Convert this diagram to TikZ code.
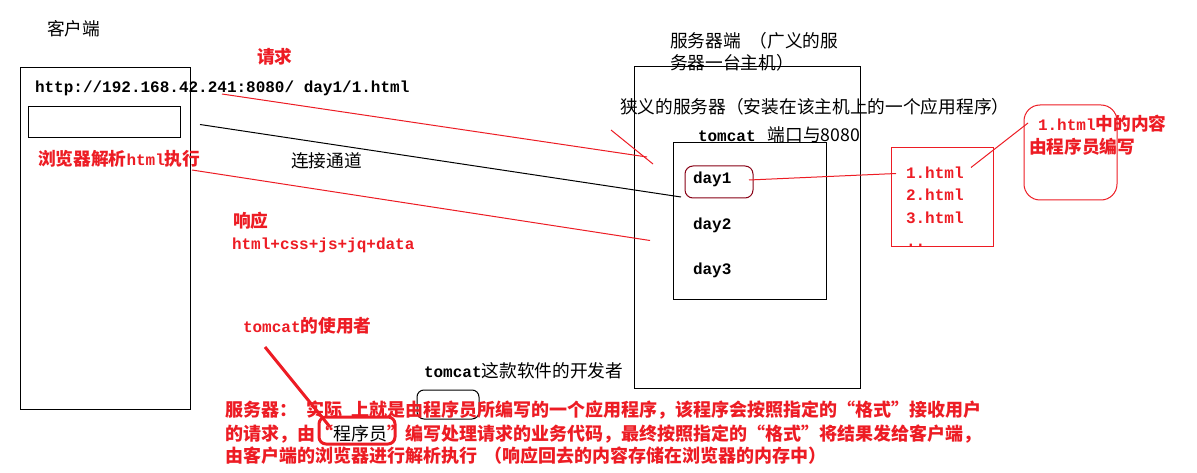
\documentclass[tikz,border=0pt]{standalone}
\usepackage{fontspec}
\newfontfamily\cjkf{Noto Sans CJK SC}
\newfontfamily\monof{Liberation Mono}
\definecolor{rd}{RGB}{237,28,36}
\definecolor{drd}{RGB}{136,0,21}
\newcommand\zh{\cjkf\mdseries\fontsize{17.7}{22}\selectfont}
\newcommand\zhb{\cjkf\bfseries\fontsize{17.7}{22}\selectfont}
\newcommand\zhl{\cjkf\bfseries\fontsize{18}{22}\selectfont}
\newcommand\zhlk{\cjkf\mdseries\fontsize{18}{22}\selectfont}
\newcommand\en{\monof\bfseries\fontsize{16}{20}\selectfont}
\begin{document}
\begin{tikzpicture}[x=1pt,y=-1pt,
  box/.style={draw, line width=1pt, inner sep=0pt, outer sep=0pt, anchor=north west},
  txt/.style={anchor=base west, inner sep=0pt, outer sep=0pt},
  ln/.style={line width=1pt},
  thick red/.style={draw=rd, line width=3pt}
]
\useasboundingbox (0,0) rectangle (1197,473);
\fill[white] (0,0) rectangle (1197,473);

% boxes
\node[box, minimum width=170pt, minimum height=341pt] (client) at (20,68) {};
\node[box, minimum width=152pt, minimum height=31.5pt] (input) at (28.5,106.5) {};
\node[box, minimum width=226pt, minimum height=321pt] (server) at (634,67) {};
\node[box, minimum width=153pt, minimum height=156pt] (tomcat) at (673,143) {};
\node[box, draw=drd, rounded corners=8pt, minimum width=68pt, minimum height=32pt] (d1box) at (685,166) {};
\node[box, draw=rd, minimum width=102pt, minimum height=99pt] (list) at (891,148) {};
\node[box, draw=rd, rounded corners=16pt, minimum width=93pt, minimum height=95pt] (note) at (1024,105) {};
\node[box, rounded corners=7pt, minimum width=62pt, minimum height=29pt] (devbox) at (417,390) {};
\node[box, thick red, rounded corners=7pt, minimum width=76pt, minimum height=27pt] (progbox) at (319,417) {};

% connector ends
\coordinate (rq1) at (222,94);   \coordinate (rq2) at (647,157);
\coordinate (tk1) at (611,130);  \coordinate (tk2) at (653,164);
\coordinate (ch1) at (200,124.5);\coordinate (ch2) at (681,197);
\coordinate (rs1) at (192,170);  \coordinate (rs2) at (650,240.5);
\coordinate (dl1) at (749,180);  \coordinate (dl2) at (896,173.5);
\coordinate (nt1) at (971,167.5);\coordinate (nt2) at (1028,123);
\coordinate (us1) at (265,347);  \coordinate (us2) at (330,427);

\draw[ln, rd] (rq1) -- (rq2);
\draw[ln, rd] (tk1) -- (tk2);
\draw[ln] (ch1) -- (ch2);
\draw[ln, rd] (rs1) -- (rs2);
\draw[ln, rd] (dl1) -- (dl2);
\draw[ln, rd] (nt1) -- (nt2);
\draw[thick red] (us1) -- (us2);

% texts
\node[txt] (kehu) at (47,35.5) {\zh 客户端};
\node[txt, text=rd] (qq) at (257,63.5) {\zhb 请求};
\node[txt] (url) at (35,92.7) {\en http://192.168.42.241:8080/ day1/1.html};
\node[txt, text=rd] (br) at (38,166) {\zhb 浏览器解析\en html\zhb 执行};
\node[txt] (chan) at (291,167.5) {\zh 连接通道};
\node[txt, text=rd] (resp) at (233,227.5) {\zhb 响应};
\node[txt, text=rd] (data) at (232,249.3) {\en html+css+js+jq+data};

\node[txt] (srv1) at (670,47.5) {\zh 服务器端\hspace{9pt}（广义的服};
\node[txt] (srv2) at (670,70) {\zh 务器一台主机）};
\node[txt] (narrow) at (620,113.5) {\zh 狭义的服务器（安装在该主机上的一个应用程序）};
\node[txt] (port) at (698,141.5) {\en tomcat\zh\hspace{12pt}端口与8080};
\node[txt] (day1) at (693,183.3) {\en day1};
\node[txt] (day2) at (693,229.3) {\en day2};
\node[txt] (day3) at (693,275) {\en day3};

\node[txt, text=rd] (h1) at (906,178.3) {\en 1.html};
\node[txt, text=rd] (h2) at (906,201) {\en 2.html};
\node[txt, text=rd] (h3) at (906,224) {\en 3.html};
\node[txt, text=rd] (hd) at (906,247) {\en ..};
\node[txt, text=rd] (n1) at (1038,130.5) {\en 1.html\zhb 中的内容};
\node[txt, text=rd] (n2) at (1029,154) {\zhb 由程序员编写};

\node[txt, text=rd] (user) at (243,332) {\en tomcat\zhb 的使用者};
\node[txt] (dev) at (424,377) {\en tomcat\zh 这款软件的开发者};

\node[txt, text=rd] (b1) at (225,416.5) {\zhl 服务器：\hspace{9pt}实际\hspace{10pt}上就是由程序员所编写的一个应用程序，该程序会按照指定的“格式”接收用户};
\node[txt, text=rd] (b2) at (225,440) {\zhl 的请求，由“\textcolor{black}{\zhlk 程序员}\zhl ”编写处理请求的业务代码，最终按照指定的“格式”将结果发给客户端，};
\node[txt, text=rd] (b3) at (225,462) {\zhl 由客户端的浏览器进行解析执行\hspace{8pt}（响应回去的内容存储在浏览器的内存中）};
\end{tikzpicture}
\end{document}
